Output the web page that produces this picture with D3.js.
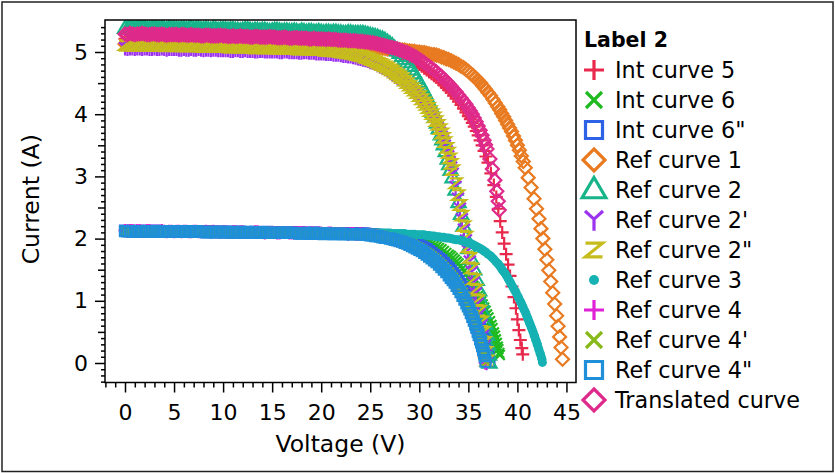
<!DOCTYPE html>
<html>
<head>
<meta charset="utf-8">
<script src="https://cdn.jsdelivr.net/npm/d3@7"></script>
<style>
  html, body { margin: 0; padding: 0; background: #fff; }
  svg { display: block; font-family: "DejaVu Sans", Verdana, sans-serif; }
</style>
</head>
<body>
<svg id="chart" width="835" height="473"></svg>
<script>
// ---- I-V curve data: voltage (V) and current (A) ----

// Shared voltage samples of the flat (short-circuit) part of every curve
const flatVolts = [0,0.25,0.5,0.75,1,1.25,1.5,1.75,2,2.25,2.5,2.75,3,3.25,3.5,3.75,4,4.25,4.5,4.75,5,5.25,5.5,5.75,6,6.25,6.5,6.75,7,7.25,7.5,7.75,8,8.25,8.5,8.75,9,9.25,9.5,9.75,10,10.25,10.5,10.75,11,11.25,11.5,11.75,12,12.25,12.5,12.75,13,13.25,13.5,13.75,14,14.25,14.5,14.75,15,15.25,15.5,15.75,16,16.25,16.5,16.75,17,17.25,17.5,17.75,18,18.25,18.5,18.75,19,19.25,19.5,19.75,20,20.25,20.5,20.75,21,21.25,21.5,21.75,22,22.25,22.5,22.75,23,23.25,23.5,23.75,24];

// Currents at flatVolts, one list per curve
const intCurve5Flat = [5.21,5.20,5.22,5.21,5.20,5.21,5.21,5.22,5.21,5.20,5.20,5.21,5.21,5.20,5.20,5.21,5.20,5.19,5.21,5.20,
  5.20,5.20,5.19,5.20,5.20,5.19,5.20,5.21,5.19,5.20,5.20,5.19,5.19,5.20,5.19,5.18,5.20,5.19,5.18,5.19,
  5.19,5.19,5.18,5.19,5.19,5.18,5.18,5.17,5.18,5.19,5.19,5.18,5.17,5.18,5.18,5.17,5.18,5.18,5.17,5.16,
  5.17,5.18,5.18,5.17,5.16,5.17,5.17,5.16,5.16,5.17,5.16,5.15,5.17,5.16,5.15,5.16,5.16,5.15,5.15,5.16,
  5.15,5.14,5.15,5.15,5.14,5.15,5.15,5.14,5.14,5.13,5.13,5.14,5.14,5.13,5.13,5.12,5.13];
const intCurve6Flat = [2.12,2.13,2.12,2.12,2.13,2.12,2.12,2.11,2.12,2.12,2.12,2.13,2.12,2.12,2.11,2.12,2.12,2.11,2.12,2.12,
  2.12,2.11,2.11,2.12,2.12,2.11,2.11,2.11,2.11,2.12,2.12,2.11,2.11,2.12,2.11,2.10,2.11,2.11,2.11,2.11,
  2.11,2.10,2.11,2.11,2.10,2.11,2.11,2.10,2.11,2.11,2.10,2.10,2.11,2.10,2.10,2.11,2.10,2.10,2.10,2.09,
  2.10,2.10,2.10,2.09,2.10,2.10,2.09,2.10,2.10,2.09,2.10,2.10,2.09,2.09,2.10,2.09,2.09,2.10,2.09,2.09,
  2.09,2.08,2.09,2.09,2.09,2.08,2.08,2.09,2.09,2.08,2.08,2.09,2.08,2.08,2.08,2.07,2.08];
const intCurve6ppFlat = [2.13,2.12,2.12,2.13,2.12,2.12,2.12,2.11,2.13,2.12,2.12,2.12,2.12,2.13,2.12,2.11,2.11,2.12,2.12,2.12,
  2.12,2.11,2.12,2.12,2.11,2.11,2.12,2.11,2.11,2.12,2.11,2.11,2.11,2.11,2.12,2.11,2.11,2.10,2.11,2.11,
  2.11,2.11,2.10,2.11,2.11,2.10,2.11,2.11,2.10,2.10,2.11,2.10,2.10,2.11,2.10,2.10,2.10,2.10,2.11,2.10,
  2.10,2.09,2.10,2.10,2.09,2.10,2.10,2.10,2.10,2.09,2.09,2.10,2.10,2.09,2.09,2.09,2.09,2.10,2.09,2.09,
  2.09,2.08,2.08,2.09,2.09,2.08,2.09,2.09,2.08,2.08,2.09,2.08,2.08,2.09,2.08,2.08,2.08];
const refCurve1Flat = [5.13,5.13,5.12,5.13,5.13,5.12,5.13,5.13,5.12,5.12,5.13,5.12,5.12,5.13,5.12,5.12,5.13,5.12,5.12,5.12,
  5.12,5.11,5.12,5.12,5.11,5.12,5.12,5.11,5.12,5.12,5.11,5.11,5.12,5.11,5.11,5.12,5.11,5.11,5.12,5.11,
  5.11,5.10,5.11,5.11,5.10,5.10,5.11,5.11,5.11,5.10,5.10,5.11,5.11,5.10,5.10,5.10,5.10,5.11,5.11,5.10,
  5.10,5.10,5.10,5.09,5.09,5.10,5.10,5.09,5.10,5.10,5.09,5.09,5.10,5.09,5.09,5.09,5.09,5.08,5.09,5.09,
  5.09,5.08,5.08,5.09,5.09,5.08,5.09,5.09,5.08,5.08,5.08,5.09,5.09,5.08,5.08,5.08,5.08];
const refCurve2Flat = [5.38,5.37,5.39,5.38,5.37,5.38,5.38,5.39,5.38,5.37,5.37,5.38,5.38,5.37,5.37,5.38,5.37,5.36,5.38,5.37,
  5.37,5.37,5.36,5.37,5.37,5.36,5.37,5.38,5.36,5.37,5.37,5.36,5.36,5.37,5.36,5.35,5.37,5.36,5.35,5.36,
  5.36,5.36,5.35,5.36,5.36,5.35,5.35,5.34,5.35,5.36,5.36,5.35,5.34,5.35,5.35,5.34,5.35,5.35,5.34,5.33,
  5.34,5.35,5.35,5.34,5.33,5.34,5.34,5.33,5.33,5.34,5.33,5.32,5.34,5.33,5.32,5.33,5.33,5.32,5.32,5.33,
  5.32,5.31,5.32,5.32,5.31,5.32,5.32,5.31,5.31,5.30,5.30,5.31,5.31,5.30,5.30,5.30,5.30];
const refCurve2pFlat = [5.06,5.05,5.06,5.06,5.05,5.06,5.06,5.05,5.06,5.06,5.05,5.05,5.06,5.05,5.05,5.06,5.05,5.04,5.05,5.05,
  5.05,5.05,5.04,5.04,5.05,5.04,5.04,5.05,5.04,5.04,5.05,5.04,5.03,5.04,5.04,5.03,5.04,5.04,5.03,5.03,
  5.03,5.03,5.03,5.02,5.02,5.03,5.03,5.02,5.02,5.03,5.02,5.02,5.02,5.01,5.01,5.02,5.02,5.01,5.01,5.01,
  5.01,5.01,5.01,5.00,5.00,5.01,5.01,5.00,5.00,5.00,5.00,4.99,4.99,5.00,5.00,4.99,4.99,4.99,4.98,4.98,
  4.98,4.98,4.97,4.97,4.97,4.96,4.96,4.96,4.95,4.94,4.94,4.93,4.93,4.92,4.91,4.90,4.89];
const refCurve2ppFlat = [5.11,5.10,5.11,5.11,5.10,5.11,5.11,5.10,5.11,5.11,5.10,5.10,5.11,5.10,5.10,5.11,5.10,5.09,5.10,5.10,
  5.10,5.10,5.09,5.09,5.10,5.09,5.09,5.10,5.09,5.09,5.10,5.09,5.08,5.09,5.09,5.08,5.09,5.09,5.08,5.08,
  5.08,5.08,5.08,5.07,5.07,5.08,5.08,5.07,5.07,5.08,5.07,5.07,5.07,5.06,5.06,5.07,5.07,5.06,5.06,5.06,
  5.06,5.06,5.06,5.05,5.05,5.06,5.06,5.05,5.05,5.05,5.05,5.04,5.04,5.05,5.05,5.04,5.04,5.04,5.03,5.03,
  5.03,5.03,5.02,5.02,5.02,5.01,5.01,5.01,5.00,4.99,4.99,4.98,4.98,4.97,4.96,4.95,4.94];
const refCurve3Flat = [2.12,2.12,2.12,2.13,2.12,2.12,2.13,2.12,2.12,2.12,2.12,2.12,2.12,2.11,2.12,2.12,2.12,2.11,2.11,2.12,
  2.12,2.12,2.12,2.11,2.11,2.12,2.12,2.11,2.11,2.11,2.12,2.11,2.11,2.11,2.11,2.12,2.11,2.11,2.12,2.11,
  2.11,2.11,2.11,2.10,2.11,2.11,2.11,2.11,2.10,2.10,2.11,2.11,2.11,2.10,2.10,2.11,2.11,2.10,2.10,2.10,
  2.10,2.11,2.11,2.10,2.10,2.10,2.10,2.10,2.10,2.10,2.10,2.10,2.10,2.09,2.09,2.10,2.10,2.10,2.10,2.10,
  2.10,2.09,2.10,2.10,2.09,2.10,2.10,2.09,2.10,2.10,2.09,2.09,2.10,2.10,2.10,2.09,2.10];
const refCurve4Flat = [2.13,2.12,2.13,2.13,2.12,2.13,2.13,2.12,2.12,2.13,2.13,2.12,2.12,2.12,2.12,2.13,2.12,2.11,2.12,2.12,
  2.11,2.12,2.12,2.11,2.12,2.12,2.11,2.11,2.12,2.12,2.11,2.11,2.11,2.12,2.11,2.11,2.12,2.11,2.11,2.10,
  2.11,2.11,2.10,2.10,2.11,2.11,2.10,2.11,2.11,2.10,2.10,2.10,2.10,2.11,2.11,2.10,2.10,2.09,2.10,2.10,
  2.10,2.10,2.09,2.09,2.10,2.10,2.10,2.09,2.09,2.09,2.09,2.10,2.10,2.09,2.09,2.08,2.09,2.09,2.08,2.09,
  2.09,2.08,2.08,2.09,2.09,2.08,2.08,2.08,2.08,2.08,2.08,2.07,2.08,2.08,2.07,2.07,2.08];
const refCurve4pFlat = [2.12,2.12,2.13,2.12,2.12,2.13,2.12,2.12,2.12,2.11,2.12,2.12,2.11,2.12,2.12,2.12,2.12,2.11,2.12,2.12,
  2.11,2.11,2.12,2.12,2.11,2.11,2.11,2.12,2.12,2.11,2.11,2.11,2.11,2.12,2.11,2.11,2.11,2.10,2.10,2.11,
  2.11,2.11,2.11,2.10,2.10,2.11,2.10,2.10,2.11,2.10,2.10,2.10,2.10,2.11,2.10,2.10,2.10,2.09,2.10,2.10,
  2.09,2.10,2.10,2.09,2.10,2.10,2.09,2.09,2.09,2.10,2.10,2.09,2.09,2.09,2.09,2.10,2.09,2.09,2.09,2.08,
  2.08,2.09,2.09,2.08,2.08,2.08,2.08,2.09,2.08,2.08,2.08,2.07,2.08,2.08,2.08,2.07,2.07];
const refCurve4ppFlat = [2.12,2.12,2.12,2.11,2.12,2.12,2.12,2.12,2.12,2.12,2.11,2.12,2.12,2.11,2.12,2.12,2.11,2.11,2.12,2.11,
  2.11,2.12,2.11,2.11,2.12,2.11,2.11,2.11,2.11,2.12,2.11,2.11,2.11,2.10,2.10,2.11,2.11,2.10,2.11,2.11,
  2.10,2.10,2.11,2.10,2.10,2.10,2.10,2.11,2.10,2.10,2.10,2.10,2.10,2.09,2.09,2.10,2.10,2.09,2.10,2.09,
  2.09,2.09,2.09,2.10,2.09,2.09,2.10,2.09,2.09,2.09,2.09,2.08,2.08,2.09,2.09,2.08,2.08,2.08,2.08,2.08,
  2.08,2.07,2.08,2.08,2.08,2.07,2.07,2.08,2.08,2.07,2.07,2.07,2.07,2.07,2.07,2.07,2.07];
const translatedFlat = [5.29,5.28,5.30,5.29,5.28,5.29,5.29,5.30,5.29,5.28,5.28,5.29,5.29,5.28,5.28,5.29,5.28,5.27,5.28,5.28,
  5.28,5.28,5.27,5.28,5.28,5.27,5.27,5.28,5.27,5.27,5.27,5.26,5.26,5.27,5.27,5.26,5.26,5.26,5.26,5.27,
  5.26,5.26,5.25,5.25,5.26,5.25,5.25,5.26,5.25,5.25,5.25,5.24,5.24,5.25,5.25,5.24,5.24,5.24,5.24,5.25,
  5.24,5.24,5.23,5.23,5.23,5.24,5.23,5.22,5.22,5.23,5.23,5.22,5.22,5.22,5.22,5.21,5.21,5.22,5.21,5.21,
  5.21,5.21,5.20,5.21,5.20,5.20,5.20,5.19,5.19,5.19,5.19,5.18,5.18,5.18,5.18,5.17,5.17];

// Knee and open-circuit part of each curve: [voltage, current]
const intCurve5Knee = [[24.25,5.13],[24.5,5.12],[24.75,5.12],[25,5.11],[25.25,5.10],[25.5,5.10],[25.75,5.09],[26,5.08],[26.25,5.07],[26.5,5.06],[26.75,5.05],[27,5.04],[27.25,5.02],[27.5,5.01],[27.75,5.00],[28,4.98],[28.25,4.96],[28.5,4.94],[28.75,4.92],[29,4.90],[29.25,4.88],[29.5,4.85],[29.75,4.83],[30,4.80],[30.25,4.77],[30.5,4.74],[30.75,4.71],[31,4.68],[31.25,4.65],[31.5,4.62],[31.75,4.59],[32,4.55],[32.25,4.51],[32.5,4.47],[32.75,4.43],[33,4.39],[33.25,4.35],[33.5,4.30],[33.75,4.25],[34,4.20],[34.25,4.15],[34.5,4.09],[34.75,4.03],[35,3.97],[35.2,3.92],[35.4,3.86],[35.6,3.80],[35.8,3.73],[36,3.66],[36.2,3.58],[36.4,3.50],[36.6,3.41],[36.8,3.32],[37,3.22],[37.3,3.05],[37.6,2.86],[37.85,2.67],[38.05,2.48],[38.25,2.28],[38.45,2.10],[38.65,1.92],[38.85,1.75],[39.05,1.58],[39.25,1.40],[39.45,1.23],[39.65,1.06],[39.85,0.88],[40.0,0.70],[40.15,0.53],[40.3,0.37],[40.45,0.24],[40.55,0.14]];
const intCurve6Knee = [[24.25,2.08],[24.5,2.08],[24.75,2.07],[25,2.07],[25.25,2.07],[25.5,2.07],[25.75,2.06],[26,2.06],[26.25,2.06],[26.5,2.05],[26.75,2.05],[27,2.05],[27.25,2.04],[27.5,2.04],[27.75,2.03],[28,2.03],[28.25,2.02],[28.5,2.02],[28.75,2.01],[29,2.01],[29.25,2.00],[29.5,1.99],[29.75,1.98],[30,1.98],[30.25,1.97],[30.5,1.96],[30.75,1.94],[31,1.93],[31.25,1.91],[31.5,1.89],[31.75,1.87],[32,1.85],[32.25,1.83],[32.5,1.80],[32.75,1.77],[33,1.74],[33.2,1.72],[33.4,1.69],[33.6,1.66],[33.8,1.63],[34,1.60],[34.2,1.56],[34.4,1.52],[34.6,1.48],[34.8,1.43],[35,1.38],[35.2,1.33],[35.35,1.28],[35.5,1.24],[35.7,1.18],[35.85,1.13],[36,1.08],[36.15,1.04],[36.3,0.99],[36.45,0.94],[36.6,0.89],[36.75,0.84],[36.9,0.78],[37.05,0.73],[37.2,0.67],[37.35,0.61],[37.45,0.56],[37.6,0.49],[37.7,0.44],[37.8,0.38],[37.9,0.32],[38.0,0.26],[38.05,0.22],[38.15,0.16],[38.2,0.13]];
const intCurve6ppKnee = [[24.25,2.08],[24.5,2.08],[24.75,2.07],[25,2.07],[25.25,2.07],[25.5,2.06],[25.75,2.06],[26,2.05],[26.25,2.05],[26.5,2.04],[26.75,2.04],[27,2.03],[27.25,2.02],[27.5,2.01],[27.75,2.01],[28,2.00],[28.25,1.99],[28.5,1.98],[28.75,1.97],[29,1.95],[29.25,1.94],[29.5,1.92],[29.75,1.91],[30,1.89],[30.25,1.87],[30.5,1.85],[30.75,1.83],[31,1.80],[31.25,1.77],[31.5,1.74],[31.75,1.71],[32,1.68],[32.25,1.65],[32.5,1.61],[32.75,1.57],[33,1.53],[33.2,1.49],[33.4,1.45],[33.6,1.41],[33.8,1.37],[34,1.32],[34.2,1.27],[34.4,1.22],[34.6,1.16],[34.8,1.10],[35,1.04],[35.15,0.99],[35.3,0.94],[35.45,0.89],[35.6,0.83],[35.75,0.77],[35.9,0.71],[36.05,0.65],[36.2,0.58],[36.35,0.51],[36.45,0.46],[36.6,0.38],[36.7,0.33],[36.8,0.27],[36.9,0.21],[37.0,0.14],[37.05,0.10],[37.15,0.02]];
const refCurve1Knee = [[24.25,5.08],[24.5,5.08],[24.75,5.07],[25,5.07],[25.25,5.07],[25.5,5.07],[25.75,5.06],[26,5.06],[26.25,5.06],[26.5,5.06],[26.75,5.05],[27,5.05],[27.25,5.05],[27.5,5.05],[27.75,5.04],[28,5.04],[28.25,5.03],[28.5,5.03],[28.75,5.02],[29,5.02],[29.25,5.01],[29.5,5.01],[29.75,5.00],[30,5.00],[30.25,4.99],[30.5,4.99],[30.75,4.98],[31,4.97],[31.25,4.96],[31.5,4.96],[31.75,4.95],[32,4.94],[32.25,4.92],[32.5,4.91],[32.75,4.89],[33,4.88],[33.25,4.86],[33.5,4.84],[33.75,4.82],[34,4.80],[34.25,4.77],[34.5,4.75],[34.75,4.72],[35,4.69],[35.25,4.65],[35.5,4.62],[35.75,4.58],[36,4.54],[36.25,4.50],[36.5,4.45],[36.75,4.40],[37,4.35],[37.25,4.30],[37.5,4.24],[37.75,4.18],[38,4.12],[38.2,4.07],[38.4,4.01],[38.6,3.96],[38.8,3.90],[39,3.84],[39.2,3.78],[39.4,3.72],[39.6,3.65],[39.8,3.58],[40,3.50],[40.2,3.42],[40.4,3.33],[40.6,3.24],[40.8,3.14],[41.1,2.98],[41.4,2.82],[41.7,2.64],[41.95,2.48],[42.2,2.32],[42.4,2.16],[42.6,2.00],[42.8,1.83],[43.0,1.66],[43.2,1.49],[43.4,1.31],[43.6,1.13],[43.8,0.95],[44.0,0.76],[44.15,0.59],[44.3,0.42],[44.45,0.25],[44.6,0.06]];
const refCurve2Knee = [[24.25,5.30],[24.5,5.29],[24.75,5.28],[25,5.27],[25.25,5.26],[25.5,5.25],[25.75,5.24],[26,5.22],[26.25,5.21],[26.5,5.19],[26.75,5.16],[27,5.13],[27.25,5.10],[27.5,5.06],[27.75,5.02],[28,4.98],[28.25,4.93],[28.5,4.88],[28.75,4.83],[29,4.77],[29.25,4.71],[29.5,4.65],[29.75,4.58],[30,4.51],[30.2,4.45],[30.4,4.39],[30.6,4.33],[30.8,4.26],[31,4.19],[31.2,4.11],[31.4,4.03],[31.6,3.95],[31.8,3.86],[32,3.77],[32.2,3.67],[32.35,3.59],[32.5,3.51],[32.7,3.40],[32.9,3.28],[33.05,3.19],[33.2,3.10],[33.4,2.98],[33.7,2.78],[34.0,2.58],[34.25,2.39],[34.5,2.20],[34.75,2.01],[35.0,1.84],[35.3,1.67],[35.6,1.50],[35.85,1.33],[36.1,1.16],[36.35,0.98],[36.55,0.80],[36.75,0.62],[36.9,0.45],[37.0,0.29],[37.1,0.13],[37.15,0.0]];
const refCurve2pKnee = [[24.25,4.88],[24.5,4.87],[24.75,4.86],[25,4.84],[25.25,4.83],[25.5,4.81],[25.75,4.79],[26,4.77],[26.25,4.75],[26.5,4.73],[26.75,4.71],[27,4.68],[27.25,4.65],[27.5,4.62],[27.75,4.59],[28,4.56],[28.25,4.53],[28.5,4.49],[28.75,4.45],[29,4.41],[29.25,4.37],[29.5,4.33],[29.75,4.29],[30,4.24],[30.25,4.19],[30.5,4.14],[30.7,4.10],[30.9,4.05],[31.1,4.00],[31.3,3.95],[31.5,3.89],[31.7,3.83],[31.9,3.77],[32.1,3.70],[32.3,3.63],[32.45,3.56],[32.6,3.49],[32.8,3.40],[32.95,3.32],[33.1,3.23],[33.25,3.14],[33.4,3.04],[33.7,2.83],[33.95,2.64],[34.15,2.48],[34.35,2.31],[34.55,2.14],[34.75,1.97],[34.95,1.80],[35.15,1.63],[35.35,1.46],[35.55,1.29],[35.75,1.12],[35.95,0.95],[36.15,0.78],[36.35,0.61],[36.5,0.44],[36.65,0.28],[36.78,0.12],[36.86,0.0]];
const refCurve2ppKnee = [[24.25,4.93],[24.5,4.91],[24.75,4.90],[25,4.88],[25.25,4.87],[25.5,4.85],[25.75,4.83],[26,4.81],[26.25,4.79],[26.5,4.77],[26.75,4.75],[27,4.72],[27.25,4.70],[27.5,4.67],[27.75,4.64],[28,4.61],[28.25,4.58],[28.5,4.54],[28.75,4.50],[29,4.46],[29.25,4.42],[29.5,4.38],[29.75,4.34],[30,4.29],[30.25,4.24],[30.5,4.19],[30.7,4.15],[30.9,4.10],[31.1,4.05],[31.3,4.00],[31.5,3.95],[31.7,3.89],[31.9,3.83],[32.1,3.76],[32.3,3.69],[32.45,3.62],[32.6,3.55],[32.8,3.46],[32.95,3.38],[33.1,3.29],[33.25,3.20],[33.4,3.10],[33.7,2.89],[33.95,2.70],[34.15,2.54],[34.35,2.37],[34.55,2.20],[34.75,2.03],[34.95,1.86],[35.15,1.69],[35.35,1.52],[35.55,1.35],[35.75,1.18],[35.95,1.01],[36.15,0.84],[36.35,0.67],[36.5,0.50],[36.65,0.34],[36.78,0.18],[36.88,0.04]];
const refCurve3Knee = [[24.25,2.10],[24.5,2.10],[24.75,2.10],[25,2.10],[25.25,2.09],[25.5,2.09],[25.75,2.09],[26,2.09],[26.25,2.09],[26.5,2.09],[26.75,2.09],[27,2.09],[27.25,2.08],[27.5,2.08],[27.75,2.08],[28,2.08],[28.25,2.08],[28.5,2.08],[28.75,2.07],[29,2.07],[29.25,2.07],[29.5,2.07],[29.75,2.06],[30,2.06],[30.25,2.06],[30.5,2.06],[30.75,2.05],[31,2.05],[31.25,2.04],[31.5,2.04],[31.75,2.03],[32,2.03],[32.25,2.02],[32.5,2.02],[32.75,2.01],[33,2.01],[33.25,2.00],[33.5,1.99],[33.75,1.98],[34,1.98],[34.25,1.97],[34.5,1.96],[34.75,1.94],[35,1.93],[35.25,1.92],[35.5,1.90],[35.75,1.88],[36,1.86],[36.2,1.84],[36.4,1.82],[36.6,1.80],[36.8,1.78],[37,1.75],[37.2,1.73],[37.4,1.70],[37.6,1.67],[37.8,1.63],[38,1.60],[38.15,1.57],[38.3,1.54],[38.45,1.50],[38.6,1.47],[38.75,1.44],[38.9,1.40],[39.05,1.36],[39.15,1.33],[39.3,1.29],[39.4,1.26],[39.55,1.22],[39.65,1.19],[39.8,1.15],[39.9,1.12],[40.05,1.07],[40.15,1.04],[40.3,0.99],[40.4,0.96],[40.5,0.92],[40.6,0.89],[40.7,0.85],[40.8,0.82],[40.9,0.78],[41.0,0.74],[41.1,0.70],[41.2,0.66],[41.3,0.62],[41.4,0.58],[41.5,0.54],[41.6,0.50],[41.7,0.45],[41.75,0.43],[41.85,0.38],[41.9,0.36],[42.0,0.31],[42.05,0.29],[42.15,0.24],[42.2,0.21],[42.3,0.16],[42.35,0.14],[42.45,0.09],[42.5,0.06],[42.55,0.01]];
const refCurve4Knee = [[24.25,2.07],[24.5,2.07],[24.75,2.06],[25,2.06],[25.25,2.05],[25.5,2.05],[25.75,2.04],[26,2.03],[26.25,2.03],[26.5,2.02],[26.75,2.01],[27,2.00],[27.25,1.99],[27.5,1.98],[27.75,1.96],[28,1.95],[28.25,1.94],[28.5,1.92],[28.75,1.91],[29,1.89],[29.25,1.87],[29.5,1.85],[29.75,1.83],[30,1.81],[30.25,1.79],[30.5,1.76],[30.75,1.73],[31,1.70],[31.25,1.67],[31.5,1.63],[31.75,1.60],[32,1.56],[32.25,1.52],[32.5,1.48],[32.75,1.44],[33,1.39],[33.2,1.35],[33.4,1.31],[33.6,1.27],[33.8,1.22],[34,1.17],[34.2,1.12],[34.4,1.06],[34.6,1.00],[34.8,0.94],[34.95,0.89],[35.1,0.84],[35.25,0.78],[35.4,0.72],[35.55,0.66],[35.7,0.60],[35.8,0.55],[35.95,0.48],[36.05,0.43],[36.2,0.36],[36.3,0.31],[36.4,0.25],[36.5,0.19],[36.6,0.12],[36.65,0.09],[36.72,0.0]];
const refCurve4pKnee = [[24.25,2.07],[24.5,2.07],[24.75,2.06],[25,2.06],[25.25,2.06],[25.5,2.05],[25.75,2.05],[26,2.04],[26.25,2.03],[26.5,2.02],[26.75,2.02],[27,2.01],[27.25,2.00],[27.5,1.99],[27.75,1.98],[28,1.97],[28.25,1.96],[28.5,1.94],[28.75,1.93],[29,1.91],[29.25,1.90],[29.5,1.88],[29.75,1.86],[30,1.84],[30.25,1.82],[30.5,1.79],[30.75,1.77],[31,1.74],[31.25,1.71],[31.5,1.68],[31.75,1.65],[32,1.61],[32.25,1.57],[32.5,1.53],[32.75,1.49],[33,1.45],[33.2,1.41],[33.4,1.37],[33.6,1.33],[33.8,1.28],[34,1.23],[34.2,1.18],[34.4,1.13],[34.6,1.07],[34.8,1.01],[35,0.95],[35.15,0.90],[35.3,0.84],[35.45,0.78],[35.6,0.72],[35.75,0.66],[35.9,0.59],[36.05,0.52],[36.15,0.47],[36.3,0.39],[36.4,0.34],[36.5,0.28],[36.6,0.22],[36.7,0.15],[36.75,0.11],[36.85,0.02]];
const refCurve4ppKnee = [[24.25,2.07],[24.5,2.06],[24.75,2.06],[25,2.05],[25.25,2.05],[25.5,2.04],[25.75,2.04],[26,2.03],[26.25,2.02],[26.5,2.01],[26.75,2.01],[27,2.00],[27.25,1.99],[27.5,1.98],[27.75,1.97],[28,1.96],[28.25,1.95],[28.5,1.93],[28.75,1.92],[29,1.90],[29.25,1.88],[29.5,1.86],[29.75,1.84],[30,1.82],[30.25,1.80],[30.5,1.77],[30.75,1.74],[31,1.71],[31.25,1.68],[31.5,1.65],[31.75,1.62],[32,1.58],[32.25,1.54],[32.5,1.50],[32.75,1.46],[33,1.41],[33.2,1.37],[33.4,1.33],[33.6,1.29],[33.8,1.24],[34,1.19],[34.2,1.14],[34.4,1.08],[34.6,1.02],[34.8,0.96],[34.95,0.91],[35.1,0.86],[35.25,0.80],[35.4,0.74],[35.55,0.68],[35.7,0.62],[35.8,0.57],[35.95,0.50],[36.05,0.45],[36.2,0.38],[36.3,0.33],[36.4,0.27],[36.5,0.21],[36.6,0.15],[36.65,0.11],[36.75,0.02]];
const translatedKnee = [[24.25,5.17],[24.5,5.16],[24.75,5.16],[25,5.15],[25.25,5.15],[25.5,5.14],[25.75,5.13],[26,5.12],[26.25,5.11],[26.5,5.10],[26.75,5.09],[27,5.08],[27.25,5.07],[27.5,5.06],[27.75,5.05],[28,5.03],[28.25,5.02],[28.5,5.00],[28.75,4.99],[29,4.97],[29.25,4.95],[29.5,4.93],[29.75,4.91],[30,4.88],[30.25,4.86],[30.5,4.83],[30.75,4.80],[31,4.77],[31.25,4.74],[31.5,4.71],[31.75,4.68],[32,4.64],[32.25,4.61],[32.5,4.57],[32.75,4.53],[33,4.49],[33.25,4.45],[33.5,4.40],[33.75,4.36],[34,4.31],[34.25,4.26],[34.5,4.21],[34.75,4.16],[35,4.10],[35.2,4.05],[35.4,4.00],[35.6,3.94],[35.8,3.88],[36.0,3.81],[36.2,3.74],[36.4,3.66],[36.6,3.58],[36.75,3.51],[36.9,3.44],[37.2,3.28],[37.45,3.12],[37.7,2.94],[37.9,2.76],[38.05,2.60],[38.15,2.46]];

// Series names, colours and marker shapes (drawing order = legend order)
const seriesNames = ["Int curve 5", "Int curve 6", "Int curve 6\"", "Ref curve 1", "Ref curve 2", "Ref curve 2'", "Ref curve 2\"", "Ref curve 3", "Ref curve 4", "Ref curve 4'", "Ref curve 4\"", "Translated curve"];
const seriesColors = ["#e8294c", "#1fba1f", "#2d62e6", "#e87b22", "#17b48a", "#9c34ef", "#c6bd1c", "#15b1b3", "#e022d6", "#88b91b", "#1e8fd8", "#de2a8b"];
const seriesSymbols = ["plus", "cross", "square", "diamond", "triangle", "wye", "zed", "circle", "plus", "cross", "square", "diamond"];
const seriesFlat = [intCurve5Flat, intCurve6Flat, intCurve6ppFlat, refCurve1Flat, refCurve2Flat, refCurve2pFlat, refCurve2ppFlat, refCurve3Flat, refCurve4Flat, refCurve4pFlat, refCurve4ppFlat, translatedFlat];
const seriesKnee = [intCurve5Knee, intCurve6Knee, intCurve6ppKnee, refCurve1Knee, refCurve2Knee, refCurve2pKnee, refCurve2ppKnee, refCurve3Knee, refCurve4Knee, refCurve4pKnee, refCurve4ppKnee, translatedKnee];

// Axis ticks and titles
const voltageTicks = [0, 5, 10, 15, 20, 25, 30, 35, 40, 45];
const currentTicks = [0, 1, 2, 3, 4, 5];
const legendTitle = "Label 2";
const xTitle = "Voltage (V)";
const yTitle = "Current (A)";

// ---- layout ----
const svg = d3.select("#chart");
const W = 835, H = 473;
const plot = { left: 105, top: 20, right: 576, bottom: 382.5 };

const x = d3.scaleLinear().domain([-2.039, 45.974]).range([plot.left, plot.right]);
const y = d3.scaleLinear().domain([-0.3135, 5.5145]).range([plot.bottom, plot.top]);

const series = seriesNames.map((name, k) => ({
  name,
  color: seriesColors[k],
  symbol: seriesSymbols[k],
  points: flatVolts.map((v, j) => [v, seriesFlat[k][j]]).concat(seriesKnee[k])
}));

// Marker outlines centred on the origin
function markerPath(type, h) {
  switch (type) {
    case "plus": return `M${-h},0H${h}M0,${-h}V${h}`;
    case "cross": return `M${-h},${-h}L${h},${h}M${-h},${h}L${h},${-h}`;
    case "square": return `M${-h},${-h}H${h}V${h}H${-h}Z`;
    case "diamond": return `M0,${-h}L${h},0L0,${h}L${-h},0Z`;
    case "triangle": return `M0,${-h}L${0.95 * h},${0.62 * h}L${-0.95 * h},${0.62 * h}Z`;
    case "wye": return `M${-h},${-h}L0,${-0.1 * h}L${h},${-h}M0,${-0.1 * h}V${1.2 * h}`;
    case "zed": return `M${-h},${-0.8 * h}H${h}L${-h},${0.8 * h}H${h}`;
    case "circle": {
      const p = d3.path();
      p.arc(0, 0, h, 0, 2 * Math.PI);
      return p.toString();
    }
  }
}
const plotSize = { plus: 6.5, cross: 5, square: 5, diamond: 6.5, triangle: 7.5, wye: 6, zed: 6, circle: 4.5 };
const legendSize = { plus: 10, cross: 8, square: 8.5, diamond: 11, triangle: 12.5, wye: 9, zed: 8.5, circle: 5 };

// outer frame
svg.append("rect")
  .attr("x", 2).attr("y", 2).attr("width", W - 4).attr("height", H - 3.5)
  .attr("fill", "#fff").attr("stroke", "#222").attr("stroke-width", 1.5);

// clip region for the markers
svg.append("defs").append("clipPath").attr("id", "plotClip")
  .append("rect")
  .attr("x", plot.left).attr("y", plot.top)
  .attr("width", plot.right - plot.left).attr("height", plot.bottom - plot.top);

// markers
const markerLayer = svg.append("g").attr("clip-path", "url(#plotClip)");
series.forEach(s => {
  const filled = s.symbol === "circle";
  markerLayer.append("g")
    .selectAll("path")
    .data(s.points)
    .join("path")
    .attr("transform", d => `translate(${x(d[0])},${y(d[1])})`)
    .attr("d", markerPath(s.symbol, plotSize[s.symbol]))
    .attr("fill", filled ? s.color : "none")
    .attr("stroke", filled ? "none" : s.color)
    .attr("stroke-width", 2.2)
    .attr("stroke-linejoin", "miter");
});

// plot frame
svg.append("rect")
  .attr("x", plot.left).attr("y", plot.top)
  .attr("width", plot.right - plot.left).attr("height", plot.bottom - plot.top)
  .attr("fill", "none").attr("stroke", "#000").attr("stroke-width", 1.5);

// axes
function styleAxis(g) {
  g.select(".domain").remove();
  g.selectAll(".tick line").attr("stroke", "#000").attr("stroke-width", 1.5);
  g.selectAll(".tick text").attr("fill", "#000").style("font-size", "22px")
    .style("font-family", "\"DejaVu Sans\", Verdana, sans-serif");
}

const xMinor = d3.range(-2, 46, 1).filter(v => v % 5 !== 0);
svg.append("g").attr("transform", `translate(0,${plot.bottom})`)
  .call(d3.axisBottom(x).tickValues(xMinor).tickSize(5).tickFormat(""))
  .call(styleAxis);
svg.append("g").attr("transform", `translate(0,${plot.bottom})`)
  .call(d3.axisBottom(x).tickValues(voltageTicks).tickSize(10).tickPadding(12).tickFormat(d3.format("d")))
  .call(styleAxis);

const yMinor = d3.range(-3, 56, 1).filter(v => v % 5 !== 0).map(v => v / 10);
const yMid = [0.5, 1.5, 2.5, 3.5, 4.5];
svg.append("g").attr("transform", `translate(${plot.left},0)`)
  .call(d3.axisLeft(y).tickValues(yMinor).tickSize(4).tickFormat(""))
  .call(styleAxis);
svg.append("g").attr("transform", `translate(${plot.left},0)`)
  .call(d3.axisLeft(y).tickValues(yMid).tickSize(7).tickFormat(""))
  .call(styleAxis);
svg.append("g").attr("transform", `translate(${plot.left},0)`)
  .call(d3.axisLeft(y).tickValues(currentTicks).tickSize(10).tickPadding(7).tickFormat(d3.format("d")))
  .call(styleAxis);

// axis titles
svg.append("text")
  .attr("x", (plot.left + plot.right) / 2).attr("y", 452)
  .attr("text-anchor", "middle").style("font-size", "23.5px").attr("fill", "#000")
  .text(xTitle);
svg.append("text")
  .attr("transform", `translate(39,${(plot.top + plot.bottom) / 2 - 2}) rotate(-90)`)
  .attr("text-anchor", "middle").style("font-size", "23.5px").attr("fill", "#000")
  .text(yTitle);

// legend
const legend = svg.append("g");
legend.append("text")
  .attr("x", 584).attr("y", 47)
  .style("font-size", "20.5px").style("font-weight", "bold").attr("fill", "#000")
  .text(legendTitle);
series.forEach((s, k) => {
  const cy = 70 + 30 * k;
  const filled = s.symbol === "circle";
  legend.append("path")
    .attr("transform", `translate(594,${cy})`)
    .attr("d", markerPath(s.symbol, legendSize[s.symbol]))
    .attr("fill", filled ? s.color : "none")
    .attr("stroke", filled ? "none" : s.color)
    .attr("stroke-width", 3.2);
  legend.append("text")
    .attr("x", 615).attr("y", cy + 8)
    .style("font-size", "22.3px").attr("fill", "#000")
    .text(s.name);
});
</script>
</body>
</html>
